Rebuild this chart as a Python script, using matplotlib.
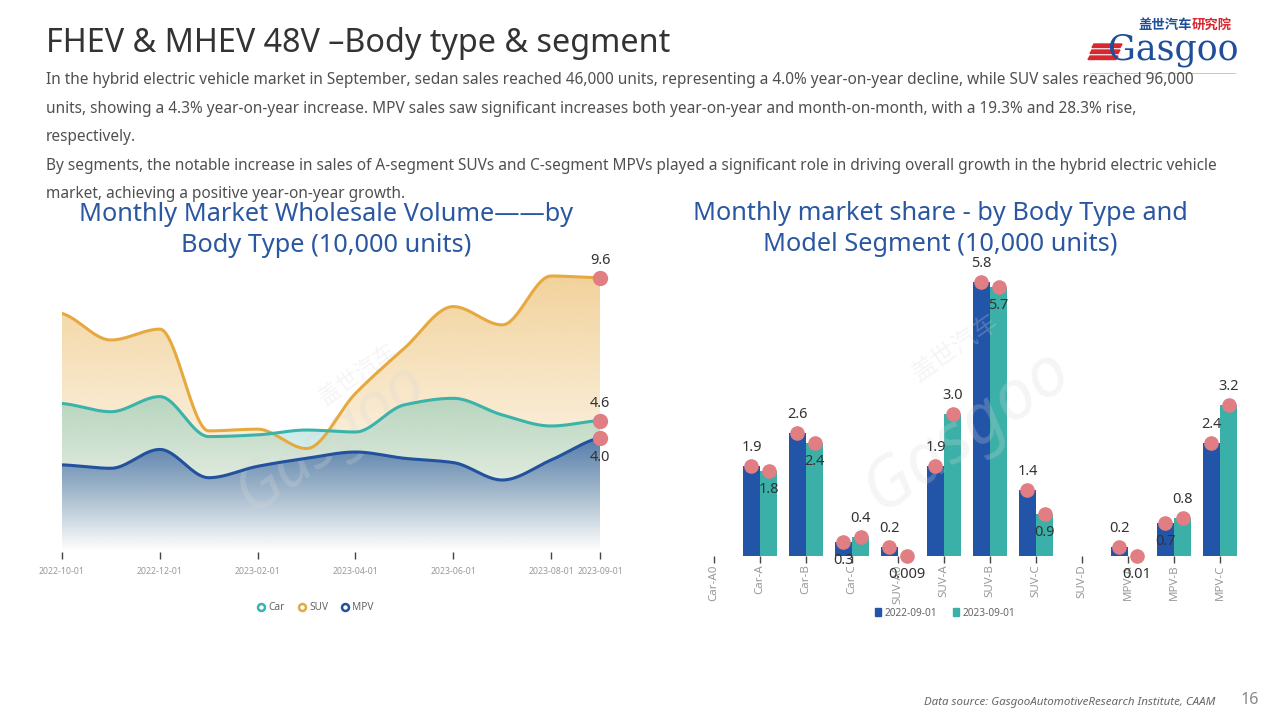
import matplotlib
matplotlib.use("Agg")
import matplotlib.pyplot as plt
import numpy as np
from matplotlib.colors import to_rgb
from matplotlib.lines import Line2D
from matplotlib.patches import Polygon, Rectangle
from matplotlib.transforms import ScaledTranslation

plt.rcParams['font.family'] = ['Noto Sans', 'Noto Sans CJK SC', 'DejaVu Sans']

# ---- data: left chart (10,000 units) ----
months = ["2022-10-01", "2022-11-01", "2022-12-01", "2023-01-01", "2023-02-01", "2023-03-01",
          "2023-04-01", "2023-05-01", "2023-06-01", "2023-07-01", "2023-08-01", "2023-09-01"]
tick_months = ["2022-10-01", "2022-12-01", "2023-02-01", "2023-04-01", "2023-06-01", "2023-08-01", "2023-09-01"]
car = [5.2, 4.91, 5.44, 4.04, 4.1, 4.27, 4.2, 5.15, 5.38, 4.8, 4.41, 4.6]
suv = [8.35, 7.42, 7.8, 4.24, 4.3, 3.62, 5.55, 7.13, 8.59, 7.95, 9.66, 9.6]
mpv = [3.05, 2.93, 3.59, 2.6, 3.0, 3.28, 3.5, 3.28, 3.13, 2.52, 3.22, 4.0]

# ---- data: right chart ----
segments = ["Car-A0", "Car-A", "Car-B", "Car-C", "SUV-A0", "SUV-A", "SUV-B", "SUV-C",
            "SUV-D", "MPV-A", "MPV-B", "MPV-C"]
s2022 = [np.nan, 1.9, 2.6, 0.3, 0.2, 1.9, 5.8, 1.4, np.nan, 0.2, 0.7, 2.4]
s2023 = [np.nan, 1.8, 2.4, 0.4, 0.009, 3.0, 5.7, 0.9, np.nan, 0.01, 0.8, 3.2]
# label side per point (a = above marker, b = below marker)
side2022 = [None, 'a', 'a', 'b', 'a', 'a', 'a', 'a', None, 'a', 'b', 'a']
side2023 = [None, 'b', 'b', 'a', 'b', 'a', 'b', 'b', None, 'b', 'a', 'a']

C_CAR = '#3AB3A9'
C_SUV = '#E6A93F'
C_MPV = '#22519E'
C_DOT = '#E07E83'
C_TITLE = '#2A57A0'
BLUE_BAR = '#2254A8'
TEAL_BAR = '#3AB0A8'


def pchip(x, y, xs):
    x = np.asarray(x, float)
    y = np.asarray(y, float)
    h = np.diff(x)
    d = np.diff(y) / h
    m = np.zeros_like(y)
    m[0], m[-1] = d[0] * 0.5, d[-1] * 0.5
    for k in range(1, len(y) - 1):
        if d[k - 1] * d[k] > 0:
            m[k] = 2.0 / (1.0 / d[k - 1] + 1.0 / d[k])
    idx = np.clip(np.searchsorted(x, xs) - 1, 0, len(x) - 2)
    t = (xs - x[idx]) / h[idx]
    h00 = 2 * t**3 - 3 * t**2 + 1
    h10 = t**3 - 2 * t**2 + t
    h01 = -2 * t**3 + 3 * t**2
    h11 = t**3 - t**2
    return h00 * y[idx] + h10 * h[idx] * m[idx] + h01 * y[idx + 1] + h11 * h[idx] * m[idx + 1]


def grad_fill(ax, xs, ys, color, a_top, z):
    poly = ax.fill_between(xs, ys, 0, color='none', lw=0)
    path = poly.get_paths()[0]
    top = ys.max()
    grad = np.zeros((256, 1, 4))
    grad[:, :, :3] = to_rgb(color)
    grad[:, 0, 3] = np.linspace(0.0, a_top, 256) ** 1.1
    im = ax.imshow(grad, extent=[xs[0], xs[-1], 0, top], origin='lower',
                   aspect='auto', zorder=z, interpolation='bilinear')
    im.set_clip_path(path, transform=ax.transData)


fig = plt.figure(figsize=(12.8, 7.2), dpi=100)

# ---- header ----
fig.text(46 / 1280, 1 - 44 / 720, "FHEV & MHEV 48V \u2013Body type & segment", fontsize=23.3,
         color='#333333', va='center', ha='left')
body = [
    "In the hybrid electric vehicle market in September, sedan sales reached 46,000 units, representing a 4.0% year-on-year decline, while SUV sales reached 96,000",
    "units, showing a 4.3% year-on-year increase. MPV sales saw significant increases both year-on-year and month-on-month, with a 19.3% and 28.3% rise,",
    "respectively.",
    "By segments, the notable increase in sales of A-segment SUVs and C-segment MPVs played a significant role in driving overall growth in the hybrid electric vehicle",
    "market, achieving a positive year-on-year growth.",
]
for i, line in enumerate(body):
    fig.text(46 / 1280, 1 - (80 + 28.6 * i) / 720, line, fontsize=11.1, color='#505050',
             va='center', ha='left')

# logo
fig.text(1138 / 1280, 1 - 25 / 720, "盖世汽车", fontsize=9.6, color='#1F4E9A', weight='bold',
         family=['Noto Sans CJK SC'], va='center', ha='left')
fig.text(1192 / 1280, 1 - 25 / 720, "研究院", fontsize=9.6, color='#D7282F', weight='bold',
         family=['Noto Sans CJK SC'], va='center', ha='left')
fig.text(1108 / 1280, 1 - 50 / 720, "Gasgoo", fontsize=25, color='#1F4E9A',
         family=['DejaVu Serif'], va='center', ha='left')
for k in range(3):
    yy = 1 - (44 + 6 * k) / 720
    fig.patches.append(Polygon([[(1094 - 2 * k) / 1280, yy], [(1122 - 2 * k) / 1280, yy],
                                [(1120 - 2 * k) / 1280, yy - 3.5 / 720], [(1092 - 2 * k) / 1280, yy - 3.5 / 720]],
                               closed=True, transform=fig.transFigure, color='#D7282F'))
fig.lines.append(Line2D([1090 / 1280, 1235 / 1280], [1 - 73 / 720] * 2, transform=fig.transFigure,
                        color='#bbbbbb', lw=0.6))

# ---- chart titles ----
fig.text(326 / 1280, 1 - 230 / 720, "Monthly Market Wholesale Volume\u2014\u2014by\nBody Type (10,000 units)",
         fontsize=18.2, color=C_TITLE, ha='center', va='center', linespacing=1.3)
fig.text(940 / 1280, 1 - 229 / 720, "Monthly market share - by Body Type and\nModel Segment (10,000 units)",
         fontsize=18.2, color=C_TITLE, ha='center', va='center', linespacing=1.3)

# ---- left chart ----
ax = fig.add_axes([62 / 1280, 1 - 552 / 720, 538 / 1280, 285.7 / 720])
x = np.arange(len(months))
xs = np.linspace(0, len(months) - 1, 600)
series = [(suv, C_SUV, 0.55, 1), (car, C_CAR, 0.38, 2), (mpv, C_MPV, 0.72, 3)]
for vals, col, a, z in series:
    ys = pchip(x, vals, xs)
    grad_fill(ax, xs, ys, col, a, z)
for vals, col, a, z in series:
    ys = pchip(x, vals, xs)
    ax.plot(xs, ys, color=col, lw=2.2, zorder=5, solid_capstyle='round')
    ax.plot(x[-1], vals[-1], 'o', color=C_DOT, ms=10, zorder=6, clip_on=False)
up_l = ax.transData + ScaledTranslation(0, 10 / 100, fig.dpi_scale_trans)
dn_l = ax.transData + ScaledTranslation(0, -12 / 100, fig.dpi_scale_trans)
ax.text(x[-1], suv[-1], f"{suv[-1]:.1f}", ha='center', va='bottom', fontsize=10.5, color='#333333', transform=up_l)
ax.text(x[-1], car[-1], f"{car[-1]:.1f}", ha='center', va='bottom', fontsize=10.5, color='#333333', transform=up_l)
ax.text(x[-1], mpv[-1], f"{mpv[-1]:.1f}", ha='center', va='top', fontsize=10.5, color='#333333', transform=dn_l)
ax.set_xlim(0, len(months) - 1)
ax.set_ylim(0, 10)
ax.set_xticks([months.index(m) for m in tick_months])
ax.set_xticklabels(tick_months, fontsize=6.3, color='#999999')
ax.tick_params(axis='x', length=5, width=1, color='#444444', pad=6, direction='out')
ax.tick_params(axis='y', left=False, labelleft=False)
for s in ax.spines.values():
    s.set_visible(False)
ax.set_facecolor('none')
ax.text(0.5, 0.4, "Gasgoo", transform=ax.transAxes, fontsize=46, color='#d8d8d8', alpha=0.25,
        rotation=35, ha='center', va='center', style='italic', zorder=4)
ax.text(0.55, 0.62, "盖世汽车", transform=ax.transAxes, fontsize=16, color='#d8d8d8', alpha=0.25,
        rotation=35, ha='center', va='center', family=['Noto Sans CJK SC'], zorder=4)

handles = [Line2D([], [], marker='o', ls='none', mfc='white', mec=c, mew=1.8, ms=5) for c in (C_CAR, C_SUV, C_MPV)]
fig.legend(handles, ["Car", "SUV", "MPV"], loc='center', bbox_to_anchor=(315 / 1280, 1 - 608 / 720),
           ncol=3, frameon=False, fontsize=7.3, labelcolor='#666666', handletextpad=0.2,
           columnspacing=1.2, handlelength=1.0)

# ---- right chart ----
bx = fig.add_axes([691 / 1280, 1 - 556 / 720, 552 / 1280, 297.4 / 720])
xi = np.arange(len(segments))
bw = 0.37
v22 = np.array(s2022)
v23 = np.array(s2023)
bx.bar(xi - bw / 2, np.nan_to_num(v22), width=bw, color=BLUE_BAR, zorder=2)
bx.bar(xi + bw / 2, np.nan_to_num(v23), width=bw, color=TEAL_BAR, zorder=2)
up = bx.transData + ScaledTranslation(0, 11 / 100, fig.dpi_scale_trans)
down = bx.transData + ScaledTranslation(0, -11 / 100, fig.dpi_scale_trans)


def fmt(v):
    return f"{v:g}" if v < 0.1 else f"{v:.1f}"


for vals, sides, off in ((v22, side2022, -bw / 2), (v23, side2023, bw / 2)):
    for i, v in enumerate(vals):
        if np.isnan(v):
            continue
        bx.plot(i + off, v, 'o', color=C_DOT, ms=9.5, zorder=4, clip_on=False)
        if sides[i] == 'a':
            bx.text(i + off, v, fmt(v), ha='center', va='bottom', fontsize=10.5, color='#333333',
                    transform=up, zorder=5)
        else:
            bx.text(i + off, v, fmt(v), ha='center', va='top', fontsize=10.5, color='#333333',
                    transform=down, zorder=5)
bx.set_xlim(-0.5, len(segments) - 0.5)
bx.set_ylim(0, 6.3)
bx.set_xticks(xi)
bx.set_xticklabels(segments, rotation=90, fontsize=8.3, color='#999999')
bx.tick_params(axis='x', length=5, width=1, color='#444444', pad=1)
bx.tick_params(axis='y', left=False, labelleft=False)
for s in bx.spines.values():
    s.set_visible(False)
bx.set_facecolor('none')
bx.text(0.5, 0.42, "Gasgoo", transform=bx.transAxes, fontsize=50, color='#d8d8d8', alpha=0.25,
        rotation=35, ha='center', va='center', style='italic', zorder=3)
bx.text(0.48, 0.7, "盖世汽车", transform=bx.transAxes, fontsize=18, color='#d8d8d8', alpha=0.25,
        rotation=35, ha='center', va='center', family=['Noto Sans CJK SC'], zorder=3)

handles2 = [Rectangle((0, 0), 1, 1, color=c) for c in (BLUE_BAR, TEAL_BAR)]
fig.legend(handles2, ["2022-09-01", "2023-09-01"], loc='center', bbox_to_anchor=(945 / 1280, 1 - 613 / 720),
           ncol=2, frameon=False, fontsize=7.3, labelcolor='#666666', handletextpad=0.4,
           columnspacing=1.5, handlelength=0.6, handleheight=0.8)

# ---- footer ----
fig.text(1215 / 1280, 1 - 702 / 720, "Data source: GasgooAutomotiveResearch Institute, CAAM",
         fontsize=8.3, style='italic', color='#666666', ha='right', va='center')
fig.text(1250 / 1280, 1 - 700 / 720, "16", fontsize=11.5, color='#888888', ha='center', va='center')

fig.savefig("out.png", dpi=100)
